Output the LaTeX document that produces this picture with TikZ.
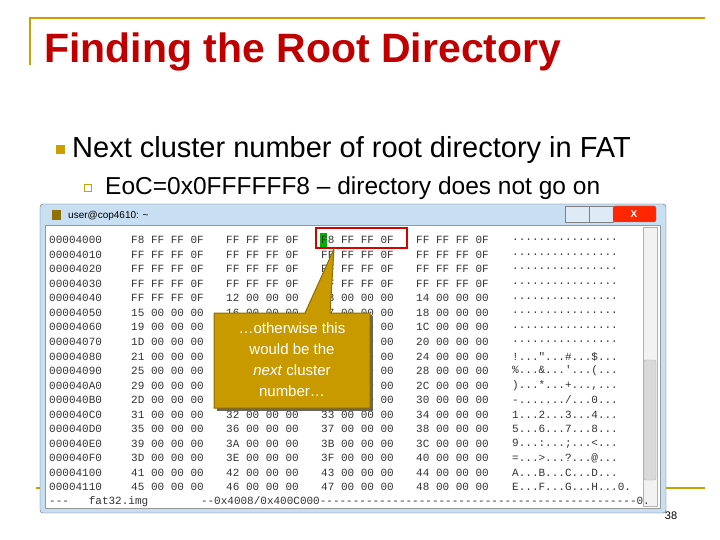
\documentclass[tikz,border=0pt]{standalone}
\usepackage{fontspec}
\setmainfont{Liberation Sans}
\setmonofont{Liberation Mono}
\usetikzlibrary{calc}
\definecolor{slidegold}{RGB}{204,160,0}
\definecolor{titlered}{RGB}{192,0,0}
\definecolor{barblue}{RGB}{200,222,242}
\definecolor{calloutgold}{RGB}{201,154,0}
\tikzstyle{hextext}=[anchor=west,inner sep=0pt,font=\ttfamily\fontsize{11}{11}\selectfont,text=black!80]
\newcommand{\hexrow}[7]{% row, address, four groups, ascii
  \pgfmathsetmacro{\y}{240+14.55*#1}
  \node[hextext] (addr#1) at (49,\y) {#2};
  \node[hextext] (ga#1) at (131,\y) {#3};
  \node[hextext] (gb#1) at (226,\y) {#4};
  \node[hextext] (gc#1) at (321,\y) {#5};
  \node[hextext] (gd#1) at (416,\y) {#6};
  \node[hextext] (asc#1) at (512,\y) {#7};
}
\begin{document}
\begin{tikzpicture}[x=1pt,y=-1pt]
\useasboundingbox (0,0) rectangle (720,540);
\fill[white] (0,0) rectangle (720,540);
% slide frame
\draw[slidegold,line width=2.5pt] (30,65) -- (30,18) -- (705,18);
\node[anchor=west,text=titlered,font=\bfseries\fontsize{41}{41}\selectfont,inner sep=0pt] (title) at (44,52) {Finding the Root Directory};
% bullets
\fill[slidegold] (56,145) rectangle (65,154);
\node[anchor=west,font=\fontsize{29}{29}\selectfont,inner sep=0pt] (item) at (72,150) {Next cluster number of root directory in FAT};
\draw[slidegold,line width=0.8pt] (84.5,184.5) rectangle (91.5,191.5);
\node[anchor=west,font=\fontsize{24.5}{24.5}\selectfont,inner sep=0pt] (subitem) at (105,188) {EoC=0x0FFFFFF8 – directory does not go on};
\draw[slidegold,line width=2.5pt] (36,488) -- (50,488);
\draw[slidegold,line width=2.5pt] (660,488) -- (705,488);
\node[font=\fontsize{11}{11}\selectfont,inner sep=0pt] (page) at (671,516) {38};
% terminal window
\draw[black!60,fill=barblue,rounded corners=3pt] (40,204) rectangle (666,513);
\node[anchor=west,font=\fontsize{10}{10}\selectfont,inner sep=0pt] (wintitle) at (68,216) {user@cop4610: \textasciitilde};
\fill[slidegold!70!black] (52,210) rectangle (61,220);
\draw[black!50,fill=barblue!60] (565,206) rectangle (589,222);
\draw[black!50,fill=barblue!60] (589,206) rectangle (613,222);
\draw[black!50,fill=red!70!orange,rounded corners=2pt] (613,206) rectangle (656,222);
\node[font=\bfseries\fontsize{10}{10}\selectfont,text=white,inner sep=0pt] (closex) at (634,214) {X};
\draw[black!40,fill=white] (45,225) rectangle (660,508);
\draw[black!30,fill=black!5] (643,227) rectangle (657,506);
\draw[black!30,fill=black!15,rounded corners=2pt] (644,360) rectangle (656,480);
% hex dump
\hexrow{0}{00004000}{F8 FF FF 0F}{FF FF FF 0F}{F8 FF FF 0F}{FF FF FF 0F}{................}
\hexrow{1}{00004010}{FF FF FF 0F}{FF FF FF 0F}{FF FF FF 0F}{FF FF FF 0F}{................}
\hexrow{2}{00004020}{FF FF FF 0F}{FF FF FF 0F}{FF FF FF 0F}{FF FF FF 0F}{................}
\hexrow{3}{00004030}{FF FF FF 0F}{FF FF FF 0F}{FF FF FF 0F}{FF FF FF 0F}{................}
\hexrow{4}{00004040}{FF FF FF 0F}{12 00 00 00}{13 00 00 00}{14 00 00 00}{................}
\hexrow{5}{00004050}{15 00 00 00}{16 00 00 00}{17 00 00 00}{18 00 00 00}{................}
\hexrow{6}{00004060}{19 00 00 00}{1A 00 00 00}{1B 00 00 00}{1C 00 00 00}{................}
\hexrow{7}{00004070}{1D 00 00 00}{1E 00 00 00}{1F 00 00 00}{20 00 00 00}{................}
\hexrow{8}{00004080}{21 00 00 00}{22 00 00 00}{23 00 00 00}{24 00 00 00}{!..."...\#...\$...}
\hexrow{9}{00004090}{25 00 00 00}{26 00 00 00}{27 00 00 00}{28 00 00 00}{\%...\&...'...(...}
\hexrow{10}{000040A0}{29 00 00 00}{2A 00 00 00}{2B 00 00 00}{2C 00 00 00}{)...*...+...,...}
\hexrow{11}{000040B0}{2D 00 00 00}{2E 00 00 00}{2F 00 00 00}{30 00 00 00}{-......./...0...}
\hexrow{12}{000040C0}{31 00 00 00}{32 00 00 00}{33 00 00 00}{34 00 00 00}{1...2...3...4...}
\hexrow{13}{000040D0}{35 00 00 00}{36 00 00 00}{37 00 00 00}{38 00 00 00}{5...6...7...8...}
\hexrow{14}{000040E0}{39 00 00 00}{3A 00 00 00}{3B 00 00 00}{3C 00 00 00}{9...:...;...<...}
\hexrow{15}{000040F0}{3D 00 00 00}{3E 00 00 00}{3F 00 00 00}{40 00 00 00}{=...>...?...@...}
\hexrow{16}{00004100}{41 00 00 00}{42 00 00 00}{43 00 00 00}{44 00 00 00}{A...B...C...D...}
\hexrow{17}{00004110}{45 00 00 00}{46 00 00 00}{47 00 00 00}{48 00 00 00}{E...F...G...H...0.}
\node[hextext] (status) at (49,502) {---\ \ \ fat32.img\ \ \ \ \ \ \ \ --0x4008/0x400C000------------------------------------------------0.};
% highlight of the EoC entry
\fill[green!70!black] (320,233) rectangle (327,247);
\node[hextext] (hl) at (321,240) {F};
\draw[red!85!black,line width=2.5pt] (316,228) rectangle (407,248);
% callout
\fill[black!60] (217,316) rectangle (373,411);
\fill[calloutgold,draw=calloutgold!70!black,line width=1pt] (214,313) -- (305,313) -- (334,249) -- (330,313) -- (370,313) -- (370,408) -- (214,408) -- cycle;
\node[align=center,text=white,font=\fontsize{15}{21}\selectfont,inner sep=0pt] (callout) at (292,360) {…otherwise this\\would be the\\\textit{next} cluster\\number…};
\end{tikzpicture}
\end{document}
